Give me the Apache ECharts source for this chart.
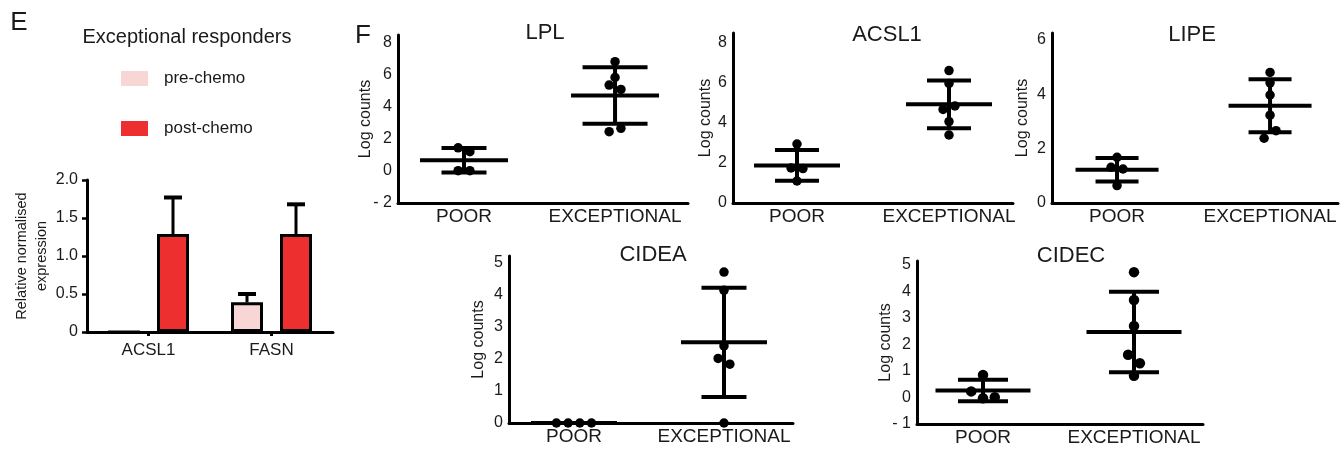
<!DOCTYPE html>
<html>
<head>
<meta charset="utf-8">
<title>Exceptional responders – expression</title>
<script src="https://cdn.jsdelivr.net/npm/echarts@6/dist/echarts.min.js"></script>
<style>
  html, body { margin: 0; padding: 0; background: #fff; }
  #chart { width: 1341px; height: 450px; }
</style>
</head>
<body>
<div id="chart"></div>
<script>
// ---- Panel E: qPCR bar chart ----
const barGenes = ['ACSL1', 'FASN'];
const preChemo = [0, 0.39];
const preChemoErr = [0, 0.11];
const postChemo = [1.29, 1.29];
const postChemoErr = [0.48, 0.39];
const barTicks = [0, 0.5, 1.0, 1.5, 2.0];

// ---- Panel F: log counts per patient, POOR vs EXCEPTIONAL ----
const groups = ['POOR', 'EXCEPTIONAL'];

const lplPoor = [1.45, 1.21, 0.02, 0.02];
const lplExc = [6.83, 5.85, 5.37, 5.10, 2.46, 2.67];
const acsl1Poor = [2.95, 1.75, 1.72, 1.10];
const acsl1Exc = [6.62, 5.98, 4.68, 4.85, 4.07, 3.40];
const lipePoor = [1.68, 1.31, 1.25, 0.64];
const lipeExc = [4.80, 4.42, 3.97, 3.23, 2.66, 2.38];
const cideaPoor = [0, 0, 0, 0];
const cideaExc = [4.70, 4.13, 2.40, 2.01, 1.83, 0];
const cidecPoor = [0.85, 0.23, -0.03, 0.01];
const cidecExc = [4.73, 3.68, 2.70, 1.61, 1.29, 0.82];

// side-by-side lanes for overlapping dots (in units of one dot width)
const lplPoorLane = [-0.5, 0.5, -0.5, 0.5];
const lplExcLane = [0, 0, -0.5, 0.5, -0.5, 0.5];
const acsl1PoorLane = [0, -0.5, 0.5, 0];
const acsl1ExcLane = [0, 0, -0.5, 0.5, 0, 0];
const lipePoorLane = [0, -0.5, 0.5, 0];
const lipeExcLane = [0, 0, 0, 0, 0.5, -0.5];
const cideaPoorLane = [-1.5, -0.5, 0.5, 1.5];
const cideaExcLane = [0, 0, 0, -0.5, 0.5, 0];
const cidecPoorLane = [0, -1, 0, 1];
const cidecExcLane = [0, 0, 0, -0.5, 0.5, 0];

// ---- styling ----
const FONT = '"Liberation Sans", Arial, Helvetica, sans-serif';
const INK = '#1a1a1a';
const PRE_COLOR = '#f8d6d6';
const POST_COLOR = '#ee2f2f';
const LANE = 0.078;          // one lane width in x-axis units
const BAR_W = 32, BAR_GAP = 17;

function mean(a) { return a.reduce((s, v) => s + v, 0) / a.length; }
function sd(a) {
  const m = mean(a);
  return Math.sqrt(a.reduce((s, v) => s + (v - m) * (v - m), 0) / (a.length - 1));
}

const panels = [
  { title: 'LPL', poor: lplPoor, exc: lplExc, poorLane: lplPoorLane, excLane: lplExcLane,
    grid: { left: 398, top: 35, width: 290, height: 168 }, y: [-2, 8.5, 2], x: [0.563, 2.483],
    titlePos: [545, 33], nameGap: 24, meanHalf: 44, capHalf: [22.5, 32.5], dot: 9.5 },
  { title: 'ACSL1', poor: acsl1Poor, exc: acsl1Exc, poorLane: acsl1PoorLane, excLane: acsl1ExcLane,
    grid: { left: 733, top: 33, width: 280, height: 170 }, y: [0, 8.5, 2], x: [0.579, 2.421],
    titlePos: [887, 35], nameGap: 19, meanHalf: 43, capHalf: [22, 22], dot: 9.5 },
  { title: 'LIPE', poor: lipePoor, exc: lipeExc, poorLane: lipePoorLane, excLane: lipeExcLane,
    grid: { left: 1052, top: 33, width: 286, height: 170 }, y: [0, 6.25, 2], x: [0.575, 2.444],
    titlePos: [1192, 35], nameGap: 21, meanHalf: 41.5, capHalf: [21.5, 21.5], dot: 9.5 },
  { title: 'CIDEA', poor: cideaPoor, exc: cideaExc, poorLane: cideaPoorLane, excLane: cideaExcLane,
    grid: { left: 509, top: 256, width: 284, height: 167 }, y: [0, 5.2, 1], x: [0.567, 2.46],
    titlePos: [653, 255], nameGap: 22, meanHalf: 43, capHalf: [22.5, 22.5], dot: 9.5 },
  { title: 'CIDEC', poor: cidecPoor, exc: cidecExc, poorLane: cidecPoorLane, excLane: cidecExcLane,
    grid: { left: 917, top: 261, width: 286, height: 163 }, y: [-1, 5.15, 1], x: [0.563, 2.457],
    titlePos: [1071, 256], nameGap: 23, meanHalf: 47.5, capHalf: [25, 25], dot: 10.5 }
];

const grid = [], xAxis = [], yAxis = [], series = [], graphic = [];

// ---- Panel E layout ----
grid.push({ left: 87, top: 180, width: 246, height: 152 });
xAxis.push({
  type: 'category', gridIndex: 0, data: barGenes,
  axisLine: { lineStyle: { color: '#000', width: 3 } },
  axisTick: { show: true, alignWithLabel: true, length: 4, lineStyle: { color: '#000', width: 3 } },
  axisLabel: { color: INK, fontFamily: FONT, fontSize: 17, margin: 10 }
});
yAxis.push({
  type: 'value', gridIndex: 0, min: barTicks[0], max: barTicks[barTicks.length - 1], interval: 0.5,
  name: 'Relative normalised\nexpression', nameLocation: 'middle', nameRotate: 90, nameGap: 35,
  nameMoveOverlap: false,
  nameTextStyle: { color: INK, fontFamily: FONT, fontSize: 14.5, lineHeight: 20 },
  axisLine: { show: true, lineStyle: { color: '#000', width: 3 } },
  axisTick: { show: true, length: 5, lineStyle: { color: '#000', width: 2.5 } },
  axisLabel: { color: INK, fontFamily: FONT, fontSize: 16, margin: 9,
    formatter: v => (v === 0 ? '0' : v.toFixed(1)) },
  splitLine: { show: false }
});

const barBorder = { borderColor: '#000', borderWidth: 3 };
series.push({
  name: 'pre-chemo', type: 'bar', xAxisIndex: 0, yAxisIndex: 0, data: preChemo,
  barWidth: BAR_W, barGap: (BAR_GAP / BAR_W * 100) + '%',
  itemStyle: Object.assign({ color: PRE_COLOR }, barBorder), z: 3
});
series.push({
  name: 'post-chemo', type: 'bar', xAxisIndex: 0, yAxisIndex: 0, data: postChemo,
  barWidth: BAR_W, itemStyle: Object.assign({ color: POST_COLOR }, barBorder), z: 3
});

// upward error bars on top of each bar
function barErrorSeries(vals, errs, side) {
  const off = side * (BAR_W + BAR_GAP) / 2;
  return {
    type: 'custom', xAxisIndex: 0, yAxisIndex: 0, z: 2,
    data: vals.map((v, i) => [i, v, errs[i]]),
    renderItem: (params, api) => {
      const err = api.value(2);
      if (!(err > 0)) return null;
      const base = api.coord([api.value(0), api.value(1)]);
      const top = api.coord([api.value(0), api.value(1) + err]);
      const x = base[0] + off;
      return {
        type: 'group',
        children: [
          { type: 'line', shape: { x1: x, y1: base[1], x2: x, y2: top[1] },
            style: { stroke: '#000', lineWidth: 3 } },
          { type: 'line', shape: { x1: x - 9, y1: top[1], x2: x + 9, y2: top[1] },
            style: { stroke: '#000', lineWidth: 4 } }
        ]
      };
    }
  };
}
series.push(barErrorSeries(preChemo, preChemoErr, -1));
series.push(barErrorSeries(postChemo, postChemoErr, 1));

graphic.push({ type: 'text', x: 187, y: 37, silent: true,
  style: { text: 'Exceptional responders', fill: INK, font: '20px ' + FONT,
    textAlign: 'center', textVerticalAlign: 'middle' } });

// ---- Panel F layout ----
panels.forEach((p, k) => {
  const gi = k + 1;
  grid.push(p.grid);
  xAxis.push({
    type: 'value', gridIndex: gi, min: p.x[0], max: p.x[1],
    axisLine: { show: true, onZero: false, lineStyle: { color: '#000', width: 3 } },
    axisTick: { show: false },
    splitLine: { show: false },
    axisLabel: { customValues: [1, 2], formatter: v => groups[Math.round(v) - 1],
      color: INK, fontFamily: FONT, fontSize: 19, margin: 4 }
  });
  yAxis.push({
    type: 'value', gridIndex: gi, min: p.y[0], max: p.y[1], interval: p.y[2],
    name: 'Log counts', nameLocation: 'middle', nameRotate: 90, nameGap: p.nameGap,
    nameMoveOverlap: false,
    nameTextStyle: { color: INK, fontFamily: FONT, fontSize: 16 },
    axisLine: { show: true, onZero: false, lineStyle: { color: '#000', width: 3 } },
    axisTick: { show: false },
    splitLine: { show: false },
    axisLabel: { color: INK, fontFamily: FONT, fontSize: 16, margin: 6, showMaxLabel: false,
      formatter: v => (v < 0 ? '- ' + Math.abs(v) : String(v)) }
  });

  const pts = [];
  [[p.poor, p.poorLane, 1], [p.exc, p.excLane, 2]].forEach(([vals, lanes, g]) => {
    vals.forEach((v, i) => pts.push([g + lanes[i] * LANE, v]));
  });
  series.push({
    type: 'scatter', xAxisIndex: gi, yAxisIndex: gi, data: pts,
    symbol: 'circle', symbolSize: p.dot, itemStyle: { color: '#000', opacity: 1 }, z: 4, silent: true
  });

  // mean ± SD bars
  series.push({
    type: 'custom', xAxisIndex: gi, yAxisIndex: gi, z: 5, clip: false,
    data: [[1, mean(p.poor), sd(p.poor)], [2, mean(p.exc), sd(p.exc)]],
    renderItem: (params, api) => {
      const g = api.value(0), m = api.value(1), s = api.value(2);
      const c = api.coord([g, m]);
      const hi = api.coord([g, m + s]);
      const lo = api.coord([g, m - s]);
      const cap = p.capHalf[params.dataIndex];
      const st = { stroke: '#000', lineWidth: 4 };
      return {
        type: 'group',
        children: [
          { type: 'line', shape: { x1: c[0], y1: hi[1], x2: c[0], y2: lo[1] }, style: st },
          { type: 'line', shape: { x1: c[0] - p.meanHalf, y1: c[1], x2: c[0] + p.meanHalf, y2: c[1] }, style: st },
          { type: 'line', shape: { x1: c[0] - cap, y1: hi[1], x2: c[0] + cap, y2: hi[1] }, style: st },
          { type: 'line', shape: { x1: c[0] - cap, y1: lo[1], x2: c[0] + cap, y2: lo[1] }, style: st }
        ]
      };
    }
  });

  graphic.push({
    type: 'text', x: p.titlePos[0], y: p.titlePos[1], silent: true,
    style: { text: p.title, fill: INK, font: '22px ' + FONT, textAlign: 'center', textVerticalAlign: 'middle' }
  });
});

// panel letters
graphic.push({ type: 'text', x: 19, y: 23, silent: true,
  style: { text: 'E', fill: INK, font: '26px ' + FONT, textAlign: 'center', textVerticalAlign: 'middle' } });
graphic.push({ type: 'text', x: 363, y: 36, silent: true,
  style: { text: 'F', fill: INK, font: '26px ' + FONT, textAlign: 'center', textVerticalAlign: 'middle' } });

const chart = echarts.init(document.getElementById('chart'), null, { renderer: 'canvas' });
chart.setOption({
  animation: false,
  backgroundColor: '#fff',
  legend: {
    data: ['pre-chemo', 'post-chemo'], orient: 'vertical', left: 121, top: 70,
    itemWidth: 27, itemHeight: 15, itemGap: 33, icon: 'rect', padding: 0,
    itemStyle: { borderWidth: 0 },
    textStyle: { color: INK, fontFamily: FONT, fontSize: 17, padding: [0, 0, 0, 11] },
    selectedMode: false
  },
  grid, xAxis, yAxis, series, graphic
});
</script>
</body>
</html>
